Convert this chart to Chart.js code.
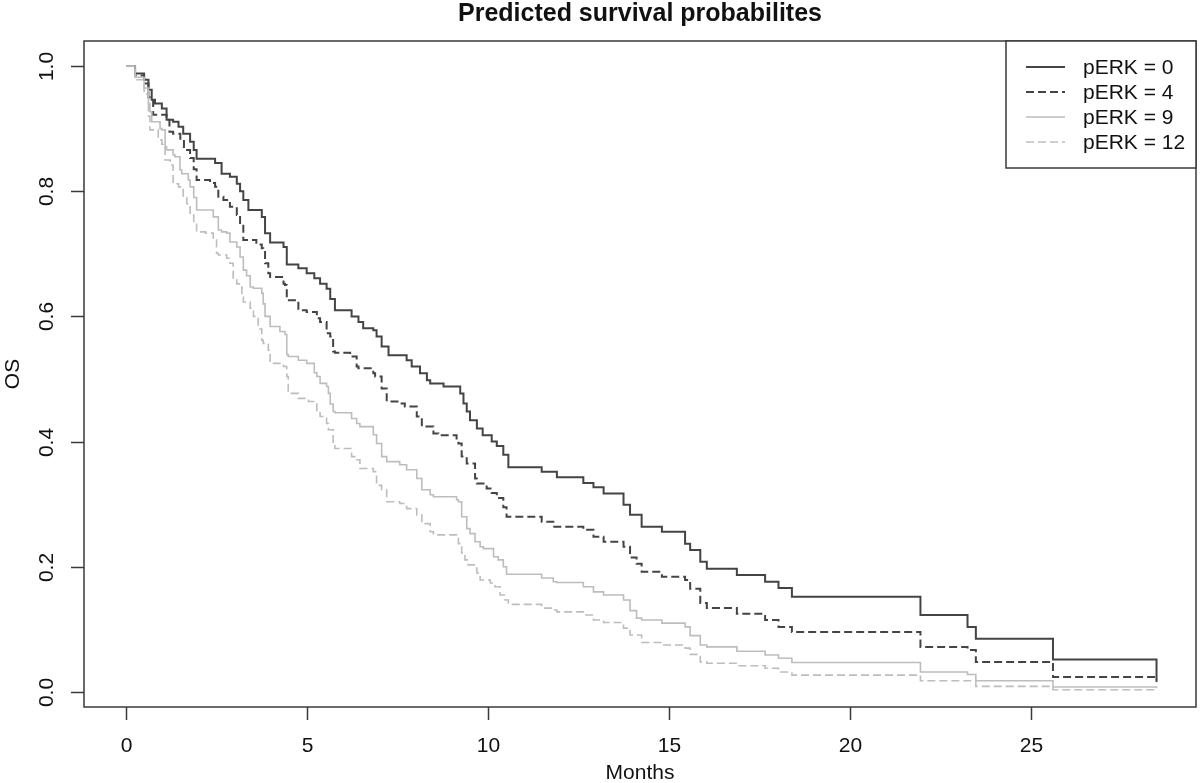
<!DOCTYPE html>
<html>
<head>
<meta charset="utf-8">
<script src="https://cdn.jsdelivr.net/npm/chart.js@4/dist/chart.umd.min.js"></script>
<style>
  html, body { margin: 0; padding: 0; background: #ffffff; }
  #wrap { width: 1200px; height: 783px; }
</style>
</head>
<body>
<div id="wrap"><canvas id="c" width="1200" height="783"></canvas></div>
<script>
// ---- data ----
const chartTitle = 'Predicted survival probabilites';
const xAxisTitle = 'Months';
const yAxisTitle = 'OS';
const seriesNames = ['pERK = 0', 'pERK = 4', 'pERK = 9', 'pERK = 12'];
const xTicks = [0, 5, 10, 15, 20, 25];
const yTicks = [0, 0.2, 0.4, 0.6, 0.8, 1.0];
const yTickLabels = ['0.0', '0.2', '0.4', '0.6', '0.8', '1.0'];

// pERK = 0 (step times, survival after step)
const t0 = [0, 0.25, 0.5, 0.62, 0.71, 0.8, 0.99, 1.12, 1.3, 1.45, 1.58, 1.77, 1.87, 1.95, 2.46, 2.64, 2.87, 3.06, 3.15, 3.24, 3.38, 3.75, 3.84, 3.98, 4.35, 4.44, 4.76, 4.99, 5.2, 5.36, 5.54, 5.64, 5.77, 6.23, 6.42, 6.55, 6.83, 6.92, 7.06, 7.25, 7.75, 7.89, 8.12, 8.31, 8.4, 8.77, 9.23, 9.32, 9.41, 9.5, 9.69, 9.85, 10.1, 10.24, 10.42, 10.56, 11.48, 11.9, 12.63, 12.91, 13.19, 13.74, 13.92, 14.24, 14.8, 15.44, 15.58, 15.86, 16.04, 16.87, 17.65, 18.02, 18.39, 21.94, 23.24, 23.47, 25.6, 28.46];
const s0 = [1.0, 0.988, 0.978, 0.962, 0.946, 0.94, 0.932, 0.914, 0.911, 0.903, 0.892, 0.879, 0.866, 0.852, 0.845, 0.828, 0.823, 0.812, 0.8, 0.786, 0.77, 0.759, 0.733, 0.718, 0.711, 0.683, 0.677, 0.669, 0.661, 0.652, 0.644, 0.628, 0.61, 0.6, 0.591, 0.581, 0.578, 0.568, 0.552, 0.538, 0.53, 0.52, 0.509, 0.498, 0.493, 0.488, 0.477, 0.461, 0.448, 0.434, 0.421, 0.41, 0.4, 0.393, 0.379, 0.359, 0.352, 0.343, 0.334, 0.327, 0.317, 0.299, 0.283, 0.264, 0.256, 0.237, 0.227, 0.208, 0.197, 0.187, 0.176, 0.166, 0.152, 0.123, 0.104, 0.085, 0.052, 0.016];

// pERK = 4
const t4 = [0, 0.25, 0.5, 0.62, 0.75, 1.12, 1.2, 1.3, 1.5, 1.6, 1.77, 1.87, 1.95, 2.32, 2.46, 2.55, 2.69, 2.87, 3.06, 3.15, 3.24, 3.6, 3.75, 3.79, 3.84, 3.93, 3.98, 4.35, 4.39, 4.44, 4.76, 4.99, 5.27, 5.36, 5.54, 5.64, 5.72, 5.77, 6.19, 6.37, 6.42, 6.83, 6.88, 7.06, 7.2, 7.56, 7.7, 8.03, 8.17, 8.49, 8.63, 9.13, 9.18, 9.27, 9.41, 9.64, 9.69, 9.96, 10.1, 10.24, 10.42, 10.51, 11.48, 11.8, 12.63, 12.91, 13.19, 13.74, 13.92, 14.1, 14.24, 14.8, 15.44, 15.58, 15.86, 16.04, 16.87, 17.65, 18.02, 18.39, 21.94, 23.24, 23.47, 25.6, 28.46];
const s4 = [1.0, 0.985, 0.972, 0.95, 0.922, 0.914, 0.895, 0.892, 0.882, 0.866, 0.853, 0.835, 0.818, 0.813, 0.807, 0.791, 0.786, 0.775, 0.762, 0.745, 0.722, 0.715, 0.709, 0.703, 0.685, 0.669, 0.663, 0.652, 0.65, 0.626, 0.61, 0.607, 0.597, 0.591, 0.573, 0.568, 0.544, 0.542, 0.536, 0.52, 0.517, 0.509, 0.504, 0.485, 0.464, 0.461, 0.456, 0.44, 0.424, 0.413, 0.41, 0.405, 0.397, 0.376, 0.365, 0.341, 0.333, 0.325, 0.318, 0.31, 0.295, 0.28, 0.272, 0.264, 0.259, 0.248, 0.24, 0.232, 0.215, 0.205, 0.192, 0.184, 0.179, 0.165, 0.142, 0.134, 0.125, 0.115, 0.104, 0.096, 0.072, 0.067, 0.048, 0.024, 0.019];

// pERK = 9
const t9 = [0, 0.25, 0.5, 0.62, 0.66, 0.71, 0.94, 0.99, 1.08, 1.12, 1.3, 1.35, 1.49, 1.54, 1.72, 1.77, 1.87, 1.95, 2.41, 2.55, 2.64, 2.78, 2.87, 3.06, 3.15, 3.24, 3.33, 3.43, 3.52, 3.75, 3.79, 3.84, 3.98, 4.25, 4.39, 4.44, 4.48, 4.76, 4.99, 5.2, 5.27, 5.36, 5.54, 5.59, 5.64, 5.72, 5.77, 6.23, 6.37, 6.46, 6.83, 6.92, 7.06, 7.2, 7.56, 7.75, 8.03, 8.17, 8.4, 8.49, 9.13, 9.18, 9.27, 9.41, 9.5, 9.64, 9.78, 9.87, 10.15, 10.28, 10.42, 10.51, 11.48, 11.8, 11.9, 12.63, 12.91, 13.19, 13.74, 13.92, 14.1, 14.24, 14.8, 15.44, 15.58, 15.86, 16.04, 16.87, 17.65, 18.02, 18.39, 21.94, 23.24, 23.47, 25.6, 28.46];
const s9 = [1.0, 0.982, 0.965, 0.94, 0.927, 0.911, 0.9, 0.898, 0.871, 0.866, 0.858, 0.855, 0.834, 0.828, 0.818, 0.807, 0.79, 0.77, 0.759, 0.738, 0.735, 0.733, 0.719, 0.711, 0.695, 0.674, 0.665, 0.647, 0.645, 0.637, 0.62, 0.6, 0.584, 0.576, 0.571, 0.539, 0.536, 0.53, 0.525, 0.51, 0.504, 0.493, 0.488, 0.477, 0.46, 0.448, 0.446, 0.437, 0.429, 0.424, 0.411, 0.397, 0.376, 0.368, 0.363, 0.355, 0.341, 0.323, 0.315, 0.312, 0.307, 0.304, 0.28, 0.261, 0.253, 0.24, 0.232, 0.229, 0.216, 0.211, 0.2, 0.188, 0.182, 0.176, 0.175, 0.168, 0.16, 0.155, 0.147, 0.13, 0.118, 0.115, 0.11, 0.104, 0.09, 0.075, 0.072, 0.065, 0.059, 0.054, 0.047, 0.032, 0.028, 0.018, 0.008, 0.006];

// pERK = 12
const t12 = [0, 0.25, 0.5, 0.62, 0.66, 0.89, 0.99, 1.08, 1.22, 1.3, 1.45, 1.58, 1.68, 1.77, 1.87, 1.95, 2.2, 2.41, 2.5, 2.55, 2.78, 2.87, 2.96, 3.06, 3.2, 3.24, 3.43, 3.52, 3.65, 3.75, 3.79, 3.93, 3.98, 4.35, 4.44, 4.48, 4.76, 5.04, 5.27, 5.36, 5.54, 5.59, 5.72, 5.77, 6.23, 6.37, 6.46, 6.83, 6.92, 7.06, 7.2, 7.56, 7.75, 8.03, 8.17, 8.4, 8.49, 9.13, 9.18, 9.27, 9.36, 9.45, 9.69, 9.78, 10.06, 10.19, 10.33, 10.47, 10.56, 11.48, 11.8, 11.9, 12.63, 12.91, 13.19, 13.74, 13.92, 14.24, 14.8, 15.44, 15.58, 15.86, 16.04, 16.87, 17.65, 18.02, 18.39, 21.94, 23.47, 25.6, 28.46];
const s12 = [1.0, 0.978, 0.955, 0.92, 0.898, 0.882, 0.875, 0.85, 0.842, 0.812, 0.807, 0.79, 0.78, 0.765, 0.75, 0.735, 0.733, 0.722, 0.701, 0.698, 0.693, 0.685, 0.658, 0.652, 0.631, 0.623, 0.613, 0.6, 0.58, 0.562, 0.557, 0.546, 0.525, 0.52, 0.504, 0.477, 0.469, 0.464, 0.448, 0.44, 0.429, 0.419, 0.397, 0.389, 0.376, 0.371, 0.357, 0.352, 0.33, 0.323, 0.304, 0.301, 0.293, 0.283, 0.269, 0.256, 0.251, 0.248, 0.237, 0.222, 0.211, 0.203, 0.19, 0.179, 0.174, 0.168, 0.155, 0.147, 0.14, 0.134, 0.131, 0.128, 0.123, 0.115, 0.111, 0.102, 0.091, 0.079, 0.075, 0.07, 0.06, 0.048, 0.046, 0.042, 0.038, 0.032, 0.027, 0.018, 0.009, 0.0035, 0.003];

// ---- styling ----
const FONT = '"Liberation Sans", Arial, Helvetica, sans-serif';
const DARK = '#444444';
const LIGHT = '#bdbdbd';
const DASH = [8, 4];

function pts(ts, ss) { return ts.map((t, i) => ({ x: t, y: ss[i] })); }

const datasets = [
  { label: seriesNames[0], data: pts(t0, s0), borderColor: DARK, borderWidth: 2, borderDash: [], order: 4 },
  { label: seriesNames[1], data: pts(t4, s4), borderColor: DARK, borderWidth: 2, borderDash: DASH, order: 3 },
  { label: seriesNames[2], data: pts(t9, s9), borderColor: LIGHT, borderWidth: 1.6, borderDash: [], order: 2 },
  { label: seriesNames[3], data: pts(t12, s12), borderColor: LIGHT, borderWidth: 1.6, borderDash: DASH, order: 1 }
].map(d => Object.assign(d, { stepped: 'before', pointRadius: 0, fill: false, tension: 0 }));

function line(ctx, x1, y1, x2, y2) { ctx.beginPath(); ctx.moveTo(x1, y1); ctx.lineTo(x2, y2); ctx.stroke(); }

const rFrame = {
  id: 'rFrame',
  afterDraw(chart) {
    const ctx = chart.ctx, a = chart.chartArea, xs = chart.scales.x, ys = chart.scales.y;
    ctx.save();
    // plot box
    ctx.strokeStyle = '#3a3a3a';
    ctx.lineWidth = 1.5;
    ctx.strokeRect(a.left, a.top, a.right - a.left, a.bottom - a.top);
    ctx.fillStyle = '#111111';
    ctx.font = '21px ' + FONT;
    ctx.textAlign = 'center';
    ctx.textBaseline = 'middle';
    // x axis ticks and labels
    xTicks.forEach(v => {
      const px = Math.round(xs.getPixelForValue(v)) + 0.5;
      line(ctx, px, a.bottom, px, a.bottom + 13);
      ctx.fillText(String(v), px, a.bottom + 39);
    });
    // y axis ticks and rotated labels
    yTicks.forEach((v, i) => {
      const py = Math.round(ys.getPixelForValue(v)) + 0.5;
      line(ctx, a.left - 13, py, a.left, py);
      ctx.save();
      ctx.translate(a.left - 37, py);
      ctx.rotate(-Math.PI / 2);
      ctx.fillText(yTickLabels[i], 0, 0);
      ctx.restore();
    });
    // axis titles
    ctx.fillText(xAxisTitle, (a.left + a.right) / 2, a.bottom + 66);
    ctx.save();
    ctx.translate(a.left - 71, (a.top + a.bottom) / 2);
    ctx.rotate(-Math.PI / 2);
    ctx.fillText(yAxisTitle, 0, 0);
    ctx.restore();
    // main title
    ctx.font = 'bold 25px ' + FONT;
    ctx.fillText(chartTitle, (a.left + a.right) / 2, a.top - 27);
    // legend (top-right, inside plot box)
    const lw = 190, lh = 127;
    const lx = a.right - lw, ly = a.top;
    ctx.fillStyle = '#ffffff';
    ctx.fillRect(lx, ly, lw, lh);
    ctx.strokeStyle = '#3a3a3a';
    ctx.lineWidth = 1.5;
    ctx.strokeRect(lx, ly, lw, lh);
    ctx.font = '21px ' + FONT;
    ctx.textAlign = 'left';
    chart.data.datasets.forEach((d, i) => {
      const yy = ly + 26 + i * 25;
      ctx.strokeStyle = d.borderColor;
      ctx.lineWidth = d.borderWidth;
      ctx.setLineDash(d.borderDash || []);
      line(ctx, lx + 20, yy, lx + 59, yy);
      ctx.setLineDash([]);
      ctx.fillStyle = '#111111';
      ctx.fillText(d.label, lx + 77, yy + 1);
    });
    ctx.restore();
  }
};

new Chart(document.getElementById('c'), {
  type: 'line',
  data: { datasets: datasets },
  options: {
    responsive: false,
    animation: false,
    devicePixelRatio: 1,
    layout: { padding: { left: 84, right: 4, top: 41, bottom: 76 } },
    plugins: { legend: { display: false }, title: { display: false }, tooltip: { enabled: false } },
    scales: {
      x: { type: 'linear', display: false, min: -1.16, max: 29.55 },
      y: { type: 'linear', display: false, min: -0.024, max: 1.04 }
    }
  },
  plugins: [rFrame]
});
</script>
</body>
</html>
